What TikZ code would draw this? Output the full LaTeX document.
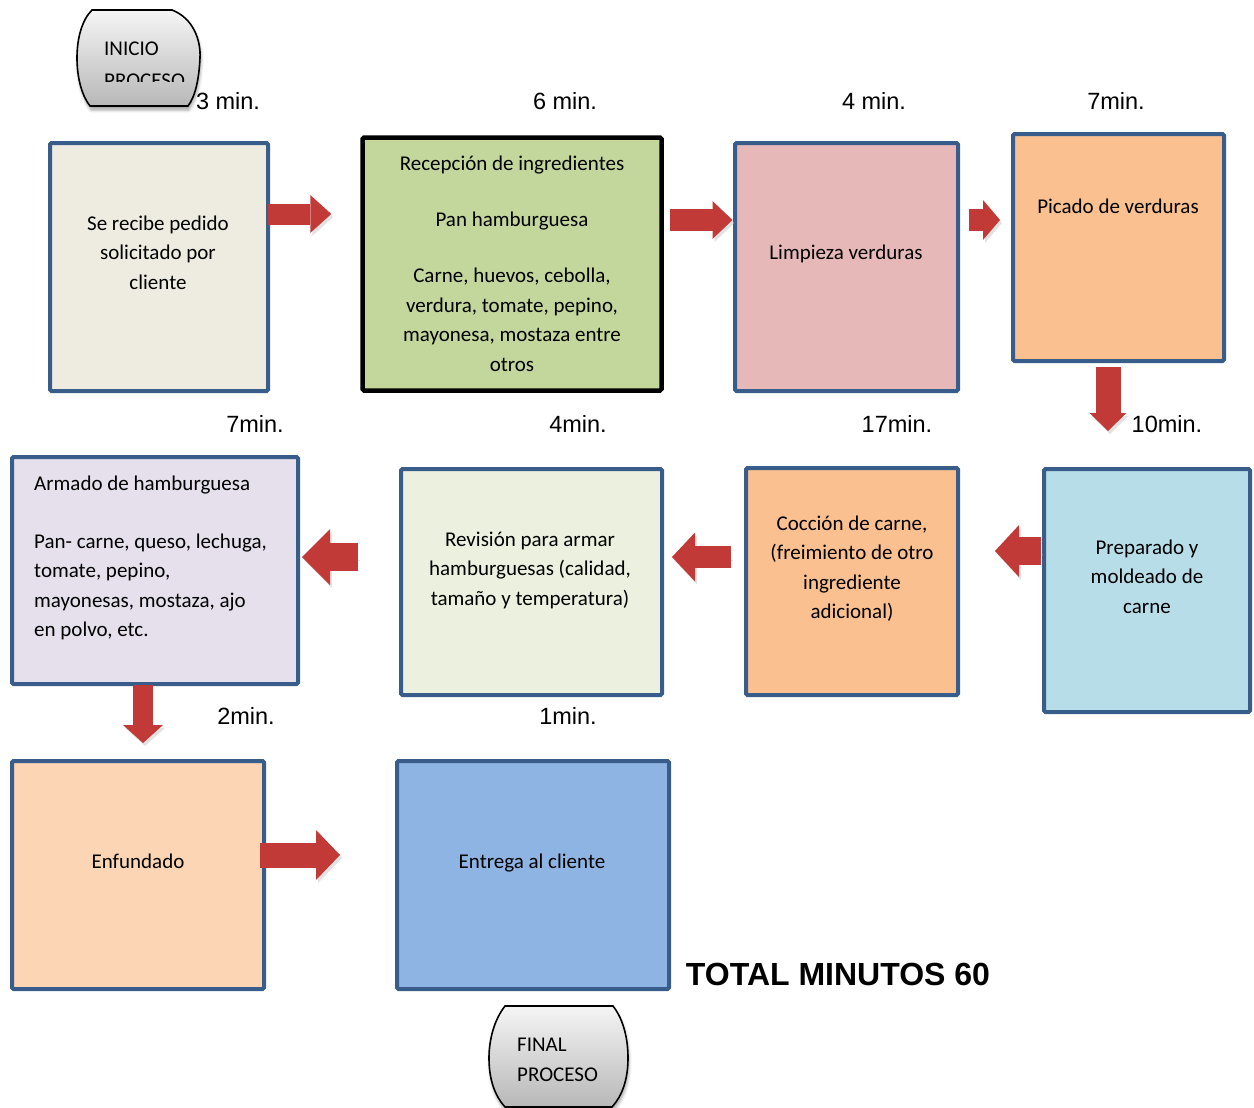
\documentclass[tikz,border=0pt]{standalone}
\usepackage{fontspec}
\setmainfont{Carlito}
\newfontfamily\labelfont{Liberation Sans}
\usetikzlibrary{arrows.meta,calc,shadows.blur}

\definecolor{frameblue}{RGB}{56,93,138}
\definecolor{arrowred}{RGB}{194,58,55}
\definecolor{cbeige}{HTML}{EEECE1}
\definecolor{cgreen}{HTML}{C3D69B}
\definecolor{cpink}{HTML}{E6B9B8}
\definecolor{corange}{HTML}{FAC090}
\definecolor{ccyan}{HTML}{B7DEE8}
\definecolor{cpale}{HTML}{EBF1DE}
\definecolor{clilac}{HTML}{E5E0EC}
\definecolor{cpeach}{HTML}{FCD5B5}
\definecolor{cblue}{HTML}{8EB4E3}

\begin{document}
\begin{tikzpicture}[x=1pt,y=-1pt,
  box/.style={draw=frameblue, line width=4pt, rounded corners=1.5pt, inner sep=0pt},
  txt/.style={font=\fontsize{21}{29.5}\selectfont, inner sep=0pt, align=center, anchor=base},
  mins/.style={font=\labelfont\fontsize{23.5}{28}\selectfont, inner sep=0pt, anchor=base},
  terminal/.style={draw=black, line width=1.6pt, top color=black!4, bottom color=black!28,
    blur shadow={shadow xshift=1pt, shadow yshift=-4pt, shadow blur radius=3pt, shadow opacity=35}},
  tlabel/.style={font=\fontsize{21}{29.5}\selectfont, inner sep=0pt, anchor=base west},
  barrow/.style n args={3}{draw=arrowred, line width=#1,
    -{Triangle[width=#2, length=#3, line width=0pt]},
    preaction={draw=black!25, opacity=0.45, transform canvas={xshift=2pt, yshift=-3pt}}},
]
\useasboundingbox (0,0) rectangle (1254,1108);

% start terminal
\path[terminal] (92,10) -- (172,10) .. controls (193,18) and (201,40) .. (200,58)
  .. controls (199,80) and (195,97) .. (188,106) -- (90,106)
  .. controls (82,96) and (77,78) .. (77,58) .. controls (77,38) and (82,20) .. (92,10) -- cycle;
\begin{scope}
  \clip (80,20) rectangle (200,82);
  \node[tlabel] (ini1) at (104,55.5) {INICIO};
  \node[tlabel] (ini2) at (104,87.5) {PROCESO};
\end{scope}

% end terminal
\path[terminal] (505,1006) -- (613,1006) .. controls (624,1020) and (628,1040) .. (628,1058)
  .. controls (628,1080) and (622,1096) .. (612,1107) -- (505,1107)
  .. controls (495,1096) and (489,1080) .. (489,1058) .. controls (489,1040) and (494,1020) .. (505,1006) -- cycle;
\node[tlabel] (fin1) at (517,1051.5) {FINAL};
\node[tlabel] (fin2) at (517,1081.5) {PROCESO};

% process boxes
\node[box, fill=cbeige, minimum width=218pt, minimum height=248pt] (b1) at (159,267) {};
\node[box, draw=black, line width=4.5pt, fill=cgreen, minimum width=299pt, minimum height=253pt] (b2) at (512,264) {};
\node[box, fill=cpink, minimum width=223pt, minimum height=248pt] (b3) at (846.5,267) {};
\node[box, fill=corange, minimum width=211pt, minimum height=227pt] (b4) at (1118.5,247.5) {};
\node[box, fill=ccyan, minimum width=206pt, minimum height=243pt] (b5) at (1147,590.5) {};
\node[box, fill=corange, minimum width=212pt, minimum height=227pt] (b6) at (852,581.5) {};
\node[box, fill=cpale, minimum width=261pt, minimum height=226pt] (b7) at (531.5,582) {};
\node[box, fill=clilac, minimum width=286pt, minimum height=227pt] (b8) at (155,570.5) {};
\node[box, fill=cpeach, minimum width=252pt, minimum height=228pt] (b9) at (138,875) {};
\node[box, fill=cblue, minimum width=272pt, minimum height=228pt] (b10) at (533,875) {};

% box texts (multi-line nodes sit on the baseline of their last line)
\node[txt] (t1) at (158,289) {Se recibe pedido\\solicitado por\\cliente};
\node[txt] (t2) at (512,371) {Recepción de ingredientes\\[26.5pt]Pan hamburguesa\\[27pt]Carne, huevos, cebolla,\\verdura, tomate, pepino,\\mayonesa, mostaza entre\\otros};
\node[txt] (t3) at (846,259) {Limpieza verduras};
\node[txt] (t4) at (1118,213) {Picado de verduras};
\node[txt] (t5) at (1147,613) {Preparado y\\moldeado de\\carne};
\node[txt] (t6) at (852,618.5) {Cocción de carne,\\(freimiento de otro\\ingrediente\\adicional)};
\node[txt] (t7) at (530,605) {Revisión para armar\\hamburguesas (calidad,\\tamaño y temperatura)};
\node[txt, align=left, anchor=base west] (t8) at (34,636.5) {Armado de hamburguesa\\[28.5pt]Pan- carne, queso, lechuga,\\tomate, pepino,\\mayonesas, mostaza, ajo\\en polvo, etc.};
\node[txt] (t9) at (138,868) {Enfundado};
\node[txt] (t10) at (532,868) {Entrega al cliente};

% time labels
\node[mins] (m1) at (228,110) {3 min.};
\node[mins] (m2) at (565,110) {6 min.};
\node[mins] (m3) at (874,110) {4 min.};
\node[mins] (m4) at (1116,110) {7min.};
\node[mins] (m5) at (255,432) {7min.};
\node[mins] (m6) at (578,432) {4min.};
\node[mins] (m7) at (897,432) {17min.};
\node[mins] (m8) at (1167,432) {10min.};
\node[mins] (m9) at (246,724) {2min.};
\node[mins] (m10) at (568,724) {1min.};
\node[inner sep=0pt, anchor=base, font=\labelfont\bfseries\fontsize{32}{36}\selectfont] (total) at (838,985) {TOTAL MINUTOS 60};

% flow arrows
\draw[barrow={21pt}{38pt}{21pt}] ($(b1.east)+(-2,-53)$) -- ($(b2.west)+(-29,-50)$);
\draw[barrow={22pt}{38pt}{20pt}] ($(b2.east)+(6,-44)$) -- ($(b3.west)+(-0.5,-47)$);
\draw[barrow={22pt}{40pt}{17pt}] ($(b3.east)+(8.5,-47)$) -- ($(b4.west)+(-11,-27.5)$);
\draw[barrow={25pt}{37pt}{18pt}] ($(b4.south)+(-10.5,4)$) -- ($(b5.north)+(-39,-36)$);
\draw[barrow={28pt}{52pt}{24pt}] ($(b5.west)+(-1,-39.5)$) -- ($(b6.east)+(35,-30.5)$);
\draw[barrow={22pt}{49pt}{23pt}] ($(b6.west)+(-13,-24.5)$) -- ($(b7.east)+(8,-25)$);
\draw[barrow={28pt}{56pt}{28pt}] ($(b7.west)+(-41,-25)$) -- ($(b8.east)+(2,-13.5)$);
\draw[barrow={20pt}{40pt}{18pt}] ($(b8.south)+(-12,-1)$) -- ($(b9.north)+(5,-16)$);
\draw[barrow={25pt}{50pt}{24pt}] ($(b9.east)+(-6,-20)$) -- ($(b10.west)+(-55,-20)$);
\end{tikzpicture}
\end{document}
